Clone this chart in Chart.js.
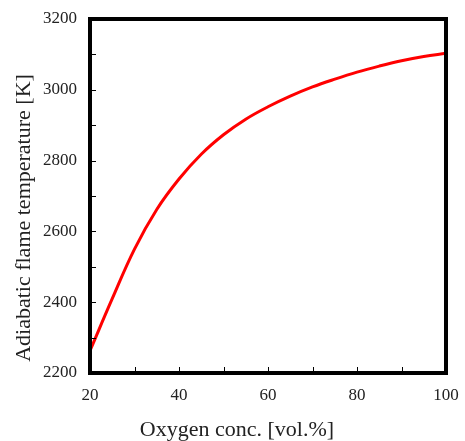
<!DOCTYPE html>
<html>
<head>
<meta charset="utf-8">
<script src="https://cdn.jsdelivr.net/npm/chart.js@4"></script>
<style>
  html, body { margin: 0; padding: 0; background: #fff; }
  #wrap { width: 465px; height: 441px; }
</style>
</head>
<body>
<div id="wrap"><canvas id="flame"></canvas></div>
<script>
// oxygen concentration [vol.%] and adiabatic flame temperature [K]
const oxygen = [20, 25, 30, 35, 40, 45, 50, 55, 60, 65, 70, 75, 80, 85, 90, 95, 100];
const flameTemp = [2263, 2410, 2550, 2662, 2748, 2818, 2873, 2917, 2952, 2982, 3008, 3030, 3050, 3067, 3082, 3094, 3103];
const xTitle = 'Oxygen conc. [vol.%]';
const yTitle = 'Adiabatic flame temperature [K]';
const serif = '"Liberation Serif", "Times New Roman", serif';

// frame, inward tick marks and axis titles
const frame = {
  id: 'frame',
  afterDraw(chart) {
    const ctx = chart.ctx, a = chart.chartArea;
    const xs = chart.scales.x, ys = chart.scales.y;
    ctx.save();
    ctx.strokeStyle = '#000';
    ctx.lineWidth = 1;
    ctx.beginPath();
    xs.ticks.forEach(t => {
      const px = Math.round(xs.getPixelForValue(t.value)) + 0.5;
      ctx.moveTo(px, a.bottom);
      ctx.lineTo(px, a.bottom - 6);
    });
    ys.ticks.forEach(t => {
      const py = Math.round(ys.getPixelForValue(t.value)) + 0.5;
      ctx.moveTo(a.left, py);
      ctx.lineTo(a.left + 6, py);
    });
    ctx.stroke();
    ctx.lineWidth = 4;
    ctx.strokeRect(a.left, a.top, a.right - a.left, a.bottom - a.top);

    ctx.fillStyle = '#222';
    ctx.font = '22px ' + serif;
    ctx.textAlign = 'center';
    ctx.textBaseline = 'middle';
    ctx.fillText(xTitle, 237, 430);
    ctx.translate(24, 218);
    ctx.rotate(-Math.PI / 2);
    ctx.fillText(yTitle, 0, 0);
    ctx.restore();
  }
};

new Chart(document.getElementById('flame'), {
  type: 'line',
  data: {
    datasets: [{
      data: oxygen.map((x, i) => ({ x: x, y: flameTemp[i] })),
      borderColor: '#ff0000',
      borderWidth: 3,
      pointRadius: 0,
      tension: 0.4,
      fill: false
    }]
  },
  options: {
    responsive: true,
    maintainAspectRatio: false,
    animation: false,
    layout: { padding: { left: 30, right: 19, top: 19, bottom: 28 } },
    plugins: { legend: { display: false }, tooltip: { enabled: false } },
    scales: {
      x: {
        type: 'linear',
        min: 20, max: 100,
        afterFit: s => { s.height = 40; s.paddingLeft = 0; s.paddingRight = 0; },
        grid: { display: false, drawTicks: false },
        border: { display: false },
        ticks: {
          stepSize: 10,
          padding: 12,
          color: '#222',
          font: { family: serif, size: 17 },
          maxRotation: 0,
          autoSkip: false,
          callback: v => (v % 20 === 0 ? v : '')
        }
      },
      y: {
        min: 2200, max: 3200,
        afterFit: s => { s.width = 60; s.paddingTop = 0; s.paddingBottom = 0; },
        grid: { display: false, drawTicks: false },
        border: { display: false },
        ticks: {
          stepSize: 100,
          padding: 13,
          color: '#222',
          font: { family: serif, size: 17 },
          autoSkip: false,
          callback: v => (v % 200 === 0 ? v : '')
        }
      }
    }
  },
  plugins: [frame]
});
</script>
</body>
</html>
